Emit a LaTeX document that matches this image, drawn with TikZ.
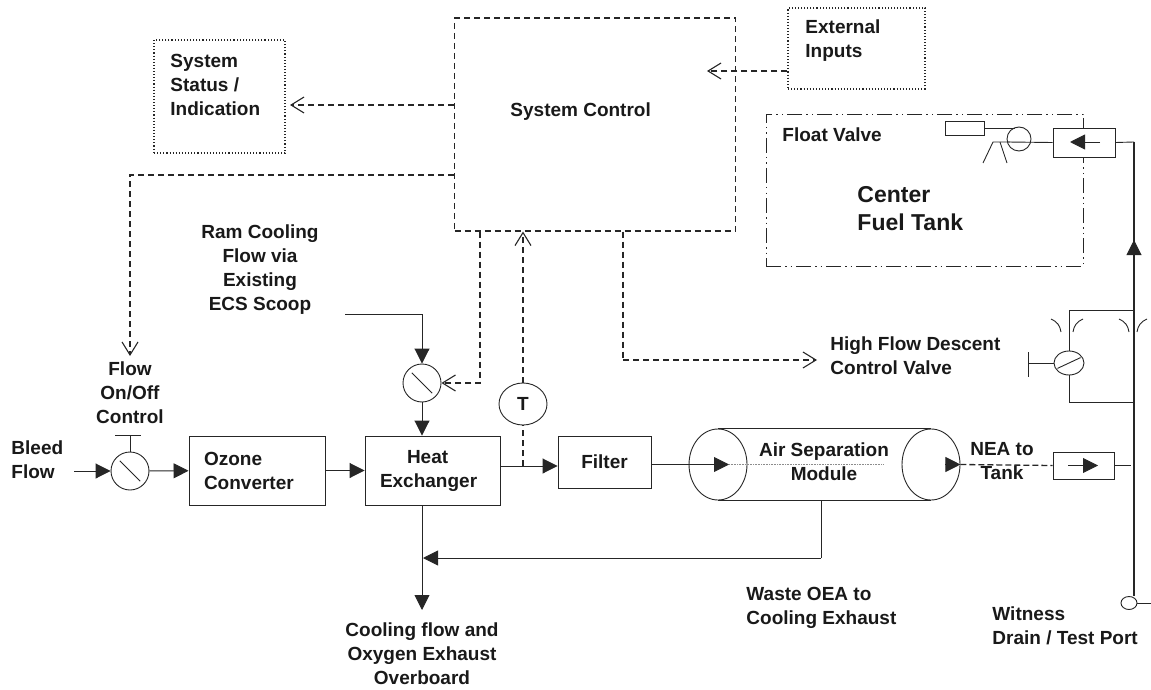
\documentclass[tikz,border=0pt]{standalone}
\usepackage{fontspec}
\setmainfont{Liberation Sans}
\usetikzlibrary{arrows.meta,shapes.geometric}

\begin{document}
\begin{tikzpicture}[x=1pt,y=-1pt,line width=.9pt,color=black!85,
    main font/.style={font=\fontsize{19}{24}\selectfont\bfseries},
    tag/.style={main font,inner sep=0pt,align=left,text=black!90},
    ctag/.style={tag,align=center},
    solid box/.style={draw,rectangle,inner ysep=0pt,main font,text=black!90},
    dot box/.style={draw,rectangle,inner sep=0pt,dotted,line width=1.1pt},
    control box/.style={draw,rectangle,inner sep=0pt,line width=1.1pt,dash pattern=on 6pt off 4pt},
    valve/.style={draw,circle,inner sep=0pt,minimum size=38pt},
    oval/.style={draw,ellipse,inner sep=0pt},
    flow line/.style={-{Triangle[length=15pt,width=15pt]}},
    signal line/.style={line width=1.1pt,dash pattern=on 6pt off 4pt,-{Straight Barb[length=13pt,width=16pt]}},
    slash/.style={shorten >=5pt,shorten <=5pt}]

  \useasboundingbox (0,0) rectangle (1151,690);

  % control side
  \node[control box,minimum width=281pt,minimum height=213pt] (control) at (595,124.5) {};
  \node[dot box,minimum width=137pt,minimum height=81pt] (external) at (856.5,48.5) {};
  \node[dot box,minimum width=131pt,minimum height=113pt] (status) at (219.5,96.5) {};
  \node[tag,anchor=west] (controltag) at (510,112) {System Control};
  \node[tag,anchor=west] (externaltag) at (805,41) {External\\Inputs};
  \node[tag,anchor=west] (statustag) at (170,85) {System\\Status /\\Indication};

  % fuel tank
  \node[draw,rectangle,inner sep=0pt,minimum width=317pt,minimum height=152pt,
        dash pattern=on 15pt off 4pt on 1.5pt off 4pt on 1.5pt off 4pt] (tank) at (924.5,190) {};
  \node[tag,anchor=west] (floattag) at (782,135) {Float Valve};
  \node[tag,anchor=west,font=\fontsize{23}{28}\selectfont\bfseries] (tanktag) at (857,209) {Center\\Fuel Tank};
  \node[draw,rectangle,fill=white,inner sep=0pt,minimum width=62pt,minimum height=29pt] (feedvalve) at (1084,142.5) {};
  \node[draw,rectangle,inner sep=0pt,minimum width=39pt,minimum height=14pt] (float) at (964.5,128) {};
  \node[draw,circle,inner sep=0pt,minimum size=24pt] (ball) at (1019,139) {};

  % main flow row
  \node[tag,anchor=west] (bleedtag) at (11,460) {Bleed\\Flow};
  \node[ctag] (flowtag) at (130,393) {Flow\\On/Off\\Control};
  \node[valve] (flowvalve) at (130,471) {};
  \node[solid box,minimum width=136pt,minimum height=69pt,text width=106pt,inner xsep=15pt,align=left] (ozone) at (257,470.5) {Ozone\\Converter};
  \node[solid box,minimum width=135pt,minimum height=69pt,text width=105pt,inner xsep=15pt,align=left] (heat) at (432.5,470.5) {\hspace*{27pt}Heat\\Exchanger};
  \node[solid box,minimum width=93pt,minimum height=52pt,inner xsep=0pt] (filter) at (604.5,462) {Filter};
  \node[ctag] (ramtag) at (260,270) {Ram Cooling\\Flow via\\Existing\\ECS Scoop};
  \node[valve] (ramvalve) at (422,383) {};
  \node[oval,minimum width=48pt,minimum height=42pt,main font,text=black!90] (temp) at (523,404) {T};

  % air separation module
  \node[oval,minimum width=58pt,minimum height=71pt] (asmin) at (718,464.5) {};
  \node[oval,minimum width=58pt,minimum height=71pt] (asmout) at (931,464.5) {};
  \node[ctag] (asmtag) at (824,462) {Air Separation\\Module};
  \node[ctag] (neatag) at (1002,461) {NEA to\\Tank};
  \node[draw,rectangle,inner sep=0pt,minimum width=61pt,minimum height=27pt] (checkvalve) at (1083.5,465.5) {};

  % descent valve and riser
  \node[oval,minimum width=30pt,minimum height=24pt] (hfvalve) at (1069,363) {};
  \node[oval,minimum width=16pt,minimum height=13pt] (port) at (1129,603) {};
  \node[tag,anchor=west] (hftag) at (830,355.5) {High Flow Descent\\Control Valve};
  \node[tag,anchor=west] (wastetag) at (746,608) {Waste OEA to\\Cooling Exhaust};
  \node[tag,anchor=west] (witnesstag) at (992,625.5) {Witness\\Drain / Test Port};
  \node[ctag] (overtag) at (422,654) {Cooling flow and\\Oxygen Exhaust\\Overboard};

  \coordinate (bleedin) at (74,471);
  \coordinate (ramin) at (345,314);
  \coordinate (ramcorner) at (422,314);
  \coordinate (tap) at (523,466);
  \coordinate (statusout) at (454,105);
  \coordinate (flowcorner) at (130,175);
  \coordinate (flowout) at (454,175);
  \coordinate (flowtip) at (130,356);
  \coordinate (ramsignal) at (480,383);
  \coordinate (hfcorner) at (623,360);
  \coordinate (hftip) at (817,360);
  \coordinate (exttip) at (707,71);
  \coordinate (statustip) at (290,105);
  \coordinate (inlet) at (729,464.5);
  \coordinate (dotend) at (883,464.5);
  \coordinate (outbase) at (945,464.5);
  \coordinate (wastecorner) at (821,558);
  \coordinate (wastetip) at (423,558);
  \coordinate (overtip) at (422,610);
  \coordinate (riser) at (1134,142);
  \coordinate (riserbase) at (1134,262);
  \coordinate (risertip) at (1134,240);
  \coordinate (bypasstop) at (1134,310);
  \coordinate (bypassbot) at (1134,402);
  \coordinate (checkend) at (1131,465.5);
  \coordinate (portend) at (1151,603);

  % solid flow
  \path[flow line]
    (bleedin) edge (flowvalve)
    (flowvalve) edge (ozone)
    (ozone) edge (heat)
    (ramcorner) edge (ramvalve.north)
    (ramvalve.south) edge (ramvalve.south |- heat.north)
    (heat.east |- tap) edge (filter.west |- tap)
    (filter.east |- inlet) edge (inlet)
    (outbase) edge (asmout.east)
    (wastecorner) edge (wastetip)
    (ramvalve.south |- heat.south) edge (overtip)
    (riserbase) edge (risertip);
  \draw (ramin) -- (ramcorner);
  \draw (asmin.north) -- (asmout.north);
  \draw (asmin.south) -- (asmout.south);
  \draw (wastecorner |- asmin.south) -- (wastecorner);
  \draw[densely dotted,line width=.6pt,black!45] (inlet) -- (dotend);
  \draw[dash pattern=on 6pt off 3pt,line width=1.3pt] (asmout.east) -- (checkvalve.west);
  \draw (checkvalve.east) -- (checkend);

  % signals
  \path[signal line]
    (external.west |- exttip) edge (exttip)
    (statusout) edge (statustip)
    (temp.north) edge (temp.north |- control.south)
    (hfcorner) edge (hftip);
  \draw[signal line] (flowout) -- (flowcorner) -- (flowtip);
  \draw[signal line] (ramsignal |- control.south) -- (ramsignal) -- (ramvalve.east);
  \draw[line width=1.1pt,dash pattern=on 6pt off 4pt] (hfcorner |- control.south) -- (hfcorner);
  \draw[line width=1.1pt,dash pattern=on 6pt off 4pt] (tap) -- (temp.south);

  % valve details
  \draw[slash] (flowvalve.135) -- (flowvalve.315);
  \draw[slash] (ramvalve.135) -- (ramvalve.315);
  \draw (flowvalve.north) -- (130,435);
  \draw (115,435) -- (141,435);
  \draw[shorten >=2pt,shorten <=2pt] (hfvalve.205) -- (hfvalve.25);
  \draw (hfvalve.west) -- (1028,363);
  \draw (1028,352) -- (1028,377);
  \draw (hfvalve.north) |- (bypasstop);
  \draw (hfvalve.south) |- (bypassbot);
  \draw (1051,319) to[bend left=30] (1061,332);
  \draw (1083,319) to[bend right=30] (1073,332);
  \draw (1119,319) to[bend left=30] (1129,332);
  \draw (1147,319) to[bend right=30] (1137,332);

  % float valve details
  \draw (float.east) -- (1015,128);
  \draw (1007,142) -- (feedvalve.west);
  \draw (983,163) -- (993,142) -- (1010,142);
  \draw (1000,142) -- (1007,163);
  \draw[flow line] (1100,142) -- (1070,142);
  \draw[flow line] (1068,465.5) -- (1098,465.5);

  % riser
  \draw (feedvalve.east) -- (riser);
  \draw[line width=2.2pt] (riser) -- (port.north -| riser);
  \draw (port.east) -- (portend);
\end{tikzpicture}
\end{document}
